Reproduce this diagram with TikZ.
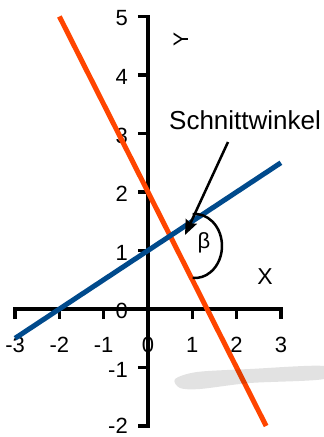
\documentclass[tikz,border=0pt]{standalone}
\usepackage{fontspec}
\setmainfont{Liberation Sans}
\usetikzlibrary{arrows.meta}
\definecolor{redl}{RGB}{255,69,0}
\definecolor{bluel}{RGB}{0,74,140}
\definecolor{smudge}{RGB}{226,226,226}
\begin{document}
\begin{tikzpicture}[x=44.3pt,y=58.5pt,
  axis/.style={line width=3.5pt},
  tickmark/.style={line width=3.5pt},
  num/.style={font=\fontsize{22}{22}\selectfont, inner sep=0pt},
  lbl/.style={font=\fontsize{23}{23}\selectfont, inner sep=0pt},
  dataline/.style={line width=5pt}]
\useasboundingbox (-148pt,-128pt) rectangle (176pt,309pt);
% y tick labels
\foreach \v in {-1,0,1,2,3,4,5}
  \node[num, anchor=east] (ylab\v) at ([xshift=-20pt,yshift=-2pt]0,\v) {\v};
\node[num, anchor=east] (ylab-2) at ([xshift=-20pt]0,-2) {-2};
% x tick labels
\foreach \v in {-3,-2,-1,0,1,2,3}
  \node[num] (xlab\v) at ([yshift=-36pt]\v,0) {\v};
% axes
\draw[axis] (-10pt,5) -- (0,5) -- (0,-2) -- (-10pt,-2);
\foreach \v in {-1,1,2,3,4}
  \draw[tickmark] (-10pt,\v) -- (0,\v);
\draw[axis] (-3,-10pt) -- (-3,0) -- (3,0) -- (3,-10pt);
\foreach \v in {-2,-1,1,2}
  \draw[tickmark] (\v,-10pt) -- (\v,0);
% axis labels
\node[lbl] (xname) at (117pt,32pt) {X};
\node[font=\fontsize{21}{21}\selectfont, inner sep=0pt, rotate=90] (yname) at (33pt,270pt) {Y};
% lines
\draw[dataline, redl] (-2,5) -- (8/3,-2);
\draw[dataline, bluel] (-3,-0.5) -- (3,2.5);
% angle
\draw[line width=2.5pt] (47pt,63pt) ++(95:27pt and 32pt) arc[start angle=95, end angle=-95, x radius=27pt, y radius=32pt];
\node[font=\fontsize{22}{22}\selectfont, inner sep=0pt] (beta) at (56pt,66pt) {β};
% annotation
\node[font=\fontsize{26}{26}\selectfont, inner sep=0pt, anchor=base west] (sw) at (21pt,179pt) {Schnittwinkel};
\coordinate (astart) at (80pt,167pt);
\coordinate (atip) at (37pt,74pt);
\draw[line width=2.5pt, -{Stealth[length=15pt,width=12pt,inset=2pt]}] (astart) -- (atip);
% smudge
\fill[smudge, blend mode=multiply] plot[smooth cycle, tension=0.5] coordinates {(27pt,-70pt) (49pt,-63pt) (102pt,-60pt) (176pt,-57pt) (176pt,-70pt) (102pt,-74pt) (52pt,-80pt) (32pt,-79pt)};
\end{tikzpicture}
\end{document}
